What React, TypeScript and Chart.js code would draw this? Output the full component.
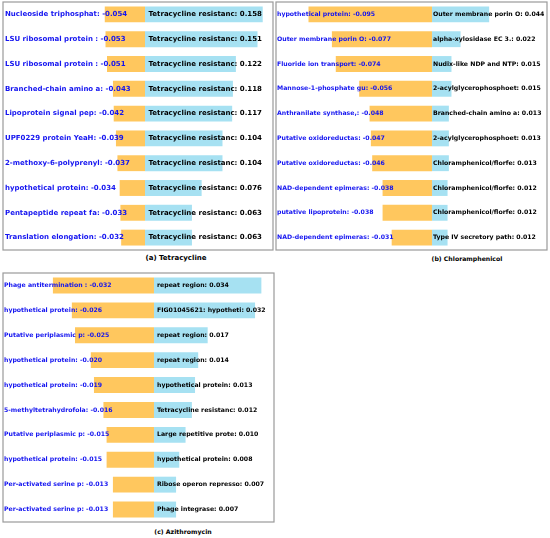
import React, { useEffect, useRef } from "react";
import { Chart, registerables } from "chart.js";

Chart.register(...registerables);

// (a) Tetracycline
const negNamesA = ["Nucleoside triphosphat", "LSU ribosomal protein ", "LSU ribosomal protein ", "Branched-chain amino a", "Lipoprotein signal pep", "UPF0229 protein YeaH", "2-methoxy-6-polyprenyl", "hypothetical protein", "Pentapeptide repeat fa", "Translation elongation"];
const negValuesA = [-0.054, -0.053, -0.051, -0.043, -0.042, -0.039, -0.037, -0.034, -0.033, -0.032];
const posNamesA = ["Tetracycline resistanc", "Tetracycline resistanc", "Tetracycline resistanc", "Tetracycline resistanc", "Tetracycline resistanc", "Tetracycline resistanc", "Tetracycline resistanc", "Tetracycline resistanc", "Tetracycline resistanc", "Tetracycline resistanc"];
const posValuesA = [0.158, 0.151, 0.122, 0.118, 0.117, 0.104, 0.104, 0.076, 0.063, 0.063];

// (b) Chloramphenicol
const negNamesB = ["hypothetical protein", "Outer membrane porin O", "Fluoride ion transport", "Mannose-1-phosphate gu", "Anthranilate synthase,", "Putative oxidoreductas", "Putative oxidoreductas", "NAD-dependent epimeras", "putative lipoprotein", "NAD-dependent epimeras"];
const negValuesB = [-0.095, -0.077, -0.074, -0.056, -0.048, -0.047, -0.046, -0.038, -0.038, -0.031];
const posNamesB = ["Outer membrane porin O", "alpha-xylosidase EC 3.", "Nudix-like NDP and NTP", "2-acylglycerophosphoet", "Branched-chain amino a", "2-acylglycerophosphoet", "Chloramphenicol/florfe", "Chloramphenicol/florfe", "Chloramphenicol/florfe", "Type IV secretory path"];
const posValuesB = [0.044, 0.022, 0.015, 0.015, 0.013, 0.013, 0.013, 0.012, 0.012, 0.012];

// (c) Azithromycin
const negNamesC = ["Phage antitermination ", "hypothetical protein", "Putative periplasmic p", "hypothetical protein", "hypothetical protein", "5-methyltetrahydrofola", "Putative periplasmic p", "hypothetical protein", "Per-activated serine p", "Per-activated serine p"];
const negValuesC = [-0.032, -0.026, -0.025, -0.020, -0.019, -0.016, -0.015, -0.015, -0.013, -0.013];
const posNamesC = ["repeat region", "FIG01045621: hypotheti", "repeat region", "repeat region", "hypothetical protein", "Tetracycline resistanc", "Large repetitive prote", "hypothetical protein", "Ribose operon represso", "Phage integrase"];
const posValuesC = [0.034, 0.032, 0.017, 0.014, 0.013, 0.012, 0.010, 0.008, 0.007, 0.007];

const captions = ["(a) Tetracycline", "(b) Chloramphenicol", "(c) Azithromycin"];

const ORANGE = "#FFC75E";
const BLUE = "#A6E1F2";
const fontOf = (size: number) => `bold ${size}px 'DejaVu Sans'`;

type PanelProps = {
  negNames: string[];
  negValues: number[];
  posNames: string[];
  posValues: number[];
  xMin: number;
  xMax: number;
  left: number;
  top: number;
  width: number;
  height: number;
  fontSize: number;
  negPad: number;
  posPad: number;
};

function Panel(p: PanelProps) {
  const ref = useRef<HTMLCanvasElement | null>(null);
  useEffect(() => {
    if (!ref.current) return;
    const labelPlugin = {
      id: "labels",
      afterDatasetsDraw(chart: any) {
        const ctx = chart.ctx;
        const area = chart.chartArea;
        const xs = chart.scales.x;
        const meta = chart.getDatasetMeta(0);
        const zero = xs.getPixelForValue(0);
        ctx.save();
        ctx.font = fontOf(p.fontSize);
        ctx.textBaseline = "middle";
        ctx.textAlign = "left";
        meta.data.forEach((el: any, i: number) => {
          const y = el.y;
          ctx.fillStyle = "#1414F0";
          ctx.fillText(`${p.negNames[i]}: ${p.negValues[i].toFixed(3)}`, area.left + p.negPad, y);
          ctx.fillStyle = "#000000";
          ctx.fillText(`${p.posNames[i]}: ${p.posValues[i].toFixed(3)}`, zero + p.posPad, y);
        });
        ctx.restore();
      },
      afterDraw(chart: any) {
        const ctx = chart.ctx;
        const a = chart.chartArea;
        ctx.save();
        ctx.strokeStyle = "#9a9a9a";
        ctx.lineWidth = 1.2;
        ctx.strokeRect(a.left, a.top, a.right - a.left, a.bottom - a.top);
        ctx.restore();
      },
    };
    const chart = new Chart(ref.current, {
      type: "bar",
      data: {
        labels: p.negNames,
        datasets: [
          { data: p.negValues, backgroundColor: ORANGE, barPercentage: 0.64, categoryPercentage: 1 },
          { data: p.posValues, backgroundColor: BLUE, barPercentage: 0.64, categoryPercentage: 1 },
        ],
      },
      options: {
        indexAxis: "y",
        responsive: false,
        animation: false,
        layout: { padding: 1 },
        plugins: { legend: { display: false }, tooltip: { enabled: false } },
        scales: {
          x: { display: false, stacked: true, min: p.xMin, max: p.xMax },
          y: { display: false, stacked: true },
        },
      },
      plugins: [labelPlugin],
    });
    return () => chart.destroy();
  }, []);
  return (
    <canvas
      ref={ref}
      width={p.width + 2}
      height={p.height + 2}
      style={{ position: "absolute", left: p.left - 1, top: p.top - 1, width: p.width + 2, height: p.height + 2 }}
    />
  );
}

const captionStyle: React.CSSProperties = {
  position: "absolute",
  color: "#000",
  whiteSpace: "nowrap",
  transform: "translate(-50%, -50%)",
};

export default function App() {
  useEffect(() => {
    document.body.style.margin = "0";
    document.body.style.background = "#fff";
  }, []);
  return (
    <div style={{ position: "relative", width: 550, height: 538, background: "#fff", overflow: "hidden" }}>
      <Panel negNames={negNamesA} negValues={negValuesA} posNames={posNamesA} posValues={posValuesA}
        xMin={-0.1906} xMax={0.1718} left={3} top={2} width={270} height={248} fontSize={7} negPad={2} posPad={3.5} />
      <Panel negNames={negNamesB} negValues={negValuesB} posNames={posNamesB} posValues={posValuesB}
        xMin={-0.12} xMax={0.0885} left={276} top={2} width={271} height={248} fontSize={6.2} negPad={1} posPad={1} />
      <Panel negNames={negNamesC} negValues={negValuesC} posNames={posNamesC} posValues={posValuesC}
        xMin={-0.0478} xMax={0.038} left={3} top={273} width={271} height={249} fontSize={6.2} negPad={1} posPad={3} />
      <div style={{ ...captionStyle, font: fontOf(7), left: 176, top: 258 }}>{captions[0]}</div>
      <div style={{ ...captionStyle, font: fontOf(6.2), left: 467, top: 258 }}>{captions[1]}</div>
      <div style={{ ...captionStyle, font: fontOf(6.2), left: 183, top: 531 }}>{captions[2]}</div>
    </div>
  );
}
